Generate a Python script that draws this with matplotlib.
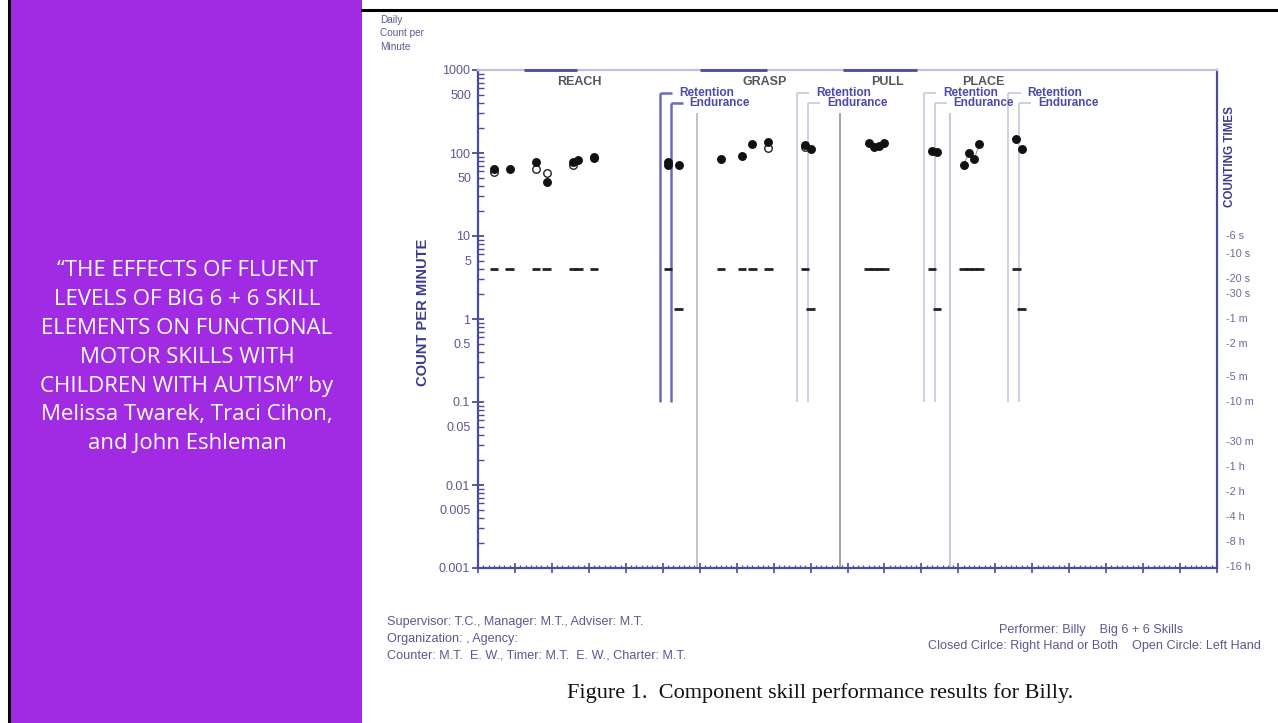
import matplotlib
matplotlib.use('Agg')
import matplotlib.pyplot as plt
import matplotlib.transforms as mtransforms
from matplotlib.patches import Rectangle
from matplotlib.lines import Line2D
import numpy as np

# ---- data (x = successive calendar days, y = count per minute)
closed_days = [3, 6, 11, 13, 18, 19, 22, 22, 36, 36, 38,
               46, 50, 52, 55, 62, 63,
               74, 75, 76, 77, 86, 87,
               92, 93, 94, 95, 102, 103]
closed_vals = [64, 64, 78, 45, 78, 82, 90, 86, 77, 72, 72,
               85, 92, 128, 135, 126, 112,
               132, 118, 121, 132, 106, 103,
               72, 100, 85, 128, 147, 112]
open_days = [3, 11, 13, 18, 55, 62]
open_vals = [59, 64, 57, 72, 115, 118]

# record floors (counting time 15 s -> 4/min, 45 s -> 1.33/min)
floor_days = [3, 6, 11, 13, 18, 19, 22, 36, 46, 50, 52, 55, 62,
              74, 75, 76, 77, 86, 92, 93, 94, 95, 102]
floor_vals = [4] * len(floor_days)
end_floor_days = [38, 63, 87, 103]
end_floor_vals = [1.33] * len(end_floor_days)

retention_days = [34.5, 60.5, 84.5, 100.5]
endurance_days = [36.5, 62.5, 86.5, 102.5]
change_days = [41.5, 68.5, 89.5]

phase_names = ['REACH', 'GRASP', 'PULL', 'PLACE']
phase_label_days = [19.2, 54.4, 77.5, 95.8]
top_marks = [(8.8, 18.8), (42.1, 54.8), (69.2, 83.2)]

ytick_vals = [1000, 500, 100, 50, 10, 5, 1, 0.5, 0.1, 0.05, 0.01, 0.005, 0.001]
ytick_labels = ['1000', '500', '100', '50', '10', '5', '1', '0.5', '0.1', '0.05',
                '0.01', '0.005', '0.001']

count_time_labels = ['6 s', '10 s', '20 s', '30 s', '1 m', '2 m', '5 m', '10 m',
                     '30 m', '1 h', '2 h', '4 h', '8 h', '16 h']
count_time_minutes = [0.1, 1 / 6, 1 / 3, 0.5, 1, 2, 5, 10, 30, 60, 120, 240, 480, 960]

title_lines = ['\u201cTHE EFFECTS OF FLUENT',
               'LEVELS OF BIG 6 + 6 SKILL',
               'ELEMENTS ON FUNCTIONAL',
               'MOTOR SKILLS WITH',
               'CHILDREN WITH AUTISM\u201d by',
               'Melissa Twarek, Traci Cihon,',
               'and John Eshleman']

plt.rcParams['font.family'] = ['Liberation Sans', 'DejaVu Sans']

W, H = 1278, 723
AX = '#4b4b9b'
TXT = '#5a5a8e'


def fx(px):
    return px / W


def fy(py):
    return 1 - py / H


fig = plt.figure(figsize=(W / 100, H / 100), dpi=100)

# left purple panel
fig.add_artist(Rectangle((fx(9), 0), fx(362) - fx(9), 1, transform=fig.transFigure,
                         facecolor='#a12be2', edgecolor='none'))
fig.add_artist(Line2D([fx(9), fx(9)], [0, 1], transform=fig.transFigure,
                      color='black', lw=2.2))
fig.add_artist(Line2D([fx(362), 1], [fy(10), fy(10)], transform=fig.transFigure,
                      color='black', lw=2.2))
for i, line in enumerate(title_lines):
    fig.text(fx(187), fy(271 + i * 28.8), line, ha='center', va='center',
             color='white', fontsize=16, family=['Open Sans', 'DejaVu Sans'])

# chart axes
ax = fig.add_axes([fx(478), fy(568), fx(1217) - fx(478), fy(70) - fy(568)])
ax.set_yscale('log')
ax.set_ylim(0.001, 1000)
ax.set_xlim(0, 140)

for side in ['left', 'bottom', 'right']:
    ax.spines[side].set_color(AX)
    ax.spines[side].set_linewidth(1.6)
ax.spines['top'].set_color('#c0c0dc')
ax.spines['top'].set_linewidth(1.6)
for a, b in top_marks:
    ax.hlines(1000, a, b, color=AX, lw=2.0, clip_on=False, zorder=5)

decades = [v for v in ytick_vals if str(v).lstrip('0.').startswith('1')]
ax.set_yticks(decades, [l for v, l in zip(ytick_vals, ytick_labels) if v in decades])
minor_pos, minor_lab = [], []
for e in range(-3, 3):
    for m in range(2, 10):
        v = m * 10.0 ** e
        minor_pos.append(v)
        minor_lab.append(ytick_labels[ytick_vals.index(v)] if m == 5 else '')
ax.set_yticks(minor_pos, minor_lab, minor=True)
ax.tick_params(axis='y', which='major', direction='inout', length=9, width=1.3,
               color=AX, labelcolor=TXT, labelsize=9, pad=1)
ax.tick_params(axis='y', which='minor', direction='in', length=4, width=1.0,
               color=AX, labelcolor=TXT, labelsize=9, pad=5)
ax.set_xticks(np.arange(0, 141, 7))
ax.set_xticks(np.arange(0, 141, 1), minor=True)
ax.tick_params(axis='x', which='major', direction='inout', length=7, width=1.2,
               color=AX, labelbottom=False)
ax.tick_params(axis='x', which='minor', direction='in', length=2.5, width=0.9,
               color=AX)

# phase lines
ret_top, end_top = 528, 400
for i, (r, e) in enumerate(zip(retention_days, endurance_days)):
    col = '#6a6ab8' if i == 0 else '#c8c8e0'
    lw = 1.8 if i == 0 else 1.2
    ax.vlines(r, 0.1, ret_top, color=col, lw=lw)
    ax.hlines(ret_top, r, r + 2.3, color=col, lw=lw)
    ax.vlines(e, 0.1, end_top, color=col, lw=lw)
    ax.hlines(end_top, e, e + 2.3, color=col, lw=lw)
    ax.text(r + 3.6, ret_top, 'Retention', ha='left', va='center', fontsize=8.6,
            fontweight='bold', color='#4a4aa8')
    ax.text(e + 3.6, end_top, 'Endurance', ha='left', va='center', fontsize=8.4,
            fontweight='bold', color='#4a4aa8')
for d, col in zip(change_days, ['#bdbdbd', '#9a9a9a', '#c4c4d8']):
    ax.vlines(d, 0.001, 300, color=col, lw=1.3)

for name, d in zip(phase_names, phase_label_days):
    ax.text(d, 717, name, ha='center', va='center', fontsize=9,
            fontweight='bold', color='#555560')

# connect consecutive days inside a phase
bounds = sorted(retention_days + endurance_days + change_days)
order = np.argsort(closed_days, kind='stable')
cd = np.array(closed_days)[order]
cv = np.array(closed_vals)[order]
for i in range(len(cd) - 1):
    if cd[i + 1] - cd[i] == 1 and np.searchsorted(bounds, cd[i]) == np.searchsorted(bounds, cd[i + 1]):
        ax.plot(cd[i:i + 2], cv[i:i + 2], color='#9a9a9a', lw=0.8, zorder=3)

ax.hlines(floor_vals, np.array(floor_days) - 0.8, np.array(floor_days) + 0.8,
          color='#222222', lw=2.0, zorder=3)
ax.hlines(end_floor_vals, np.array(end_floor_days) - 0.8, np.array(end_floor_days) + 0.8,
          color='#222222', lw=2.0, zorder=3)
ax.plot(open_days, open_vals, 'o', ms=5.4, mfc='white', mec='#222222', mew=1.0, zorder=4)
ax.plot(closed_days, closed_vals, 'o', ms=5.4, color='#111111', zorder=5)

# right-hand counting time scale
trans = mtransforms.blended_transform_factory(ax.transAxes, ax.transData)
for lab, m in zip(count_time_labels, count_time_minutes):
    ax.text(1.012, 1 / m, '-' + lab, transform=trans, ha='left', va='center',
            fontsize=7.8, color='#6a6a9a')
ax.text(1.017, 90, 'COUNTING TIMES', transform=trans, rotation=90, ha='center',
        va='center', fontsize=8.4, fontweight='bold', color='#3b3b8f')

fig.text(fx(423), fy(312), 'COUNT PER MINUTE', rotation=90, ha='center', va='center',
         fontsize=10.6, fontweight='bold', color='#3b3b8f')
for i, t in enumerate(['Daily', 'Count per', 'Minute']):
    fig.text(fx(380), fy(20 + i * 13.5), t, ha='left', va='center', fontsize=7.2,
             color=TXT)

for i, t in enumerate(['Supervisor: T.C., Manager: M.T., Adviser: M.T.',
                       'Organization: , Agency:',
                       'Counter: M.T.  E. W., Timer: M.T.  E. W., Charter: M.T.']):
    fig.text(fx(387), fy(622 + i * 17), t, ha='left', va='center', fontsize=9.1,
             color=TXT)
fig.text(fx(1091), fy(630), 'Performer: Billy    Big 6 + 6 Skills', ha='center',
         va='center', fontsize=9.1, color=TXT)
fig.text(fx(1261), fy(646), 'Closed Cirlce: Right Hand or Both    Open Circle: Left Hand',
         ha='right', va='center', fontsize=9.1, color=TXT)
fig.text(fx(820), fy(693), 'Figure 1.  Component skill performance results for Billy.',
         ha='center', va='center', fontsize=16, family='Liberation Serif', color='#111111')

fig.savefig('out.png', dpi=100)
